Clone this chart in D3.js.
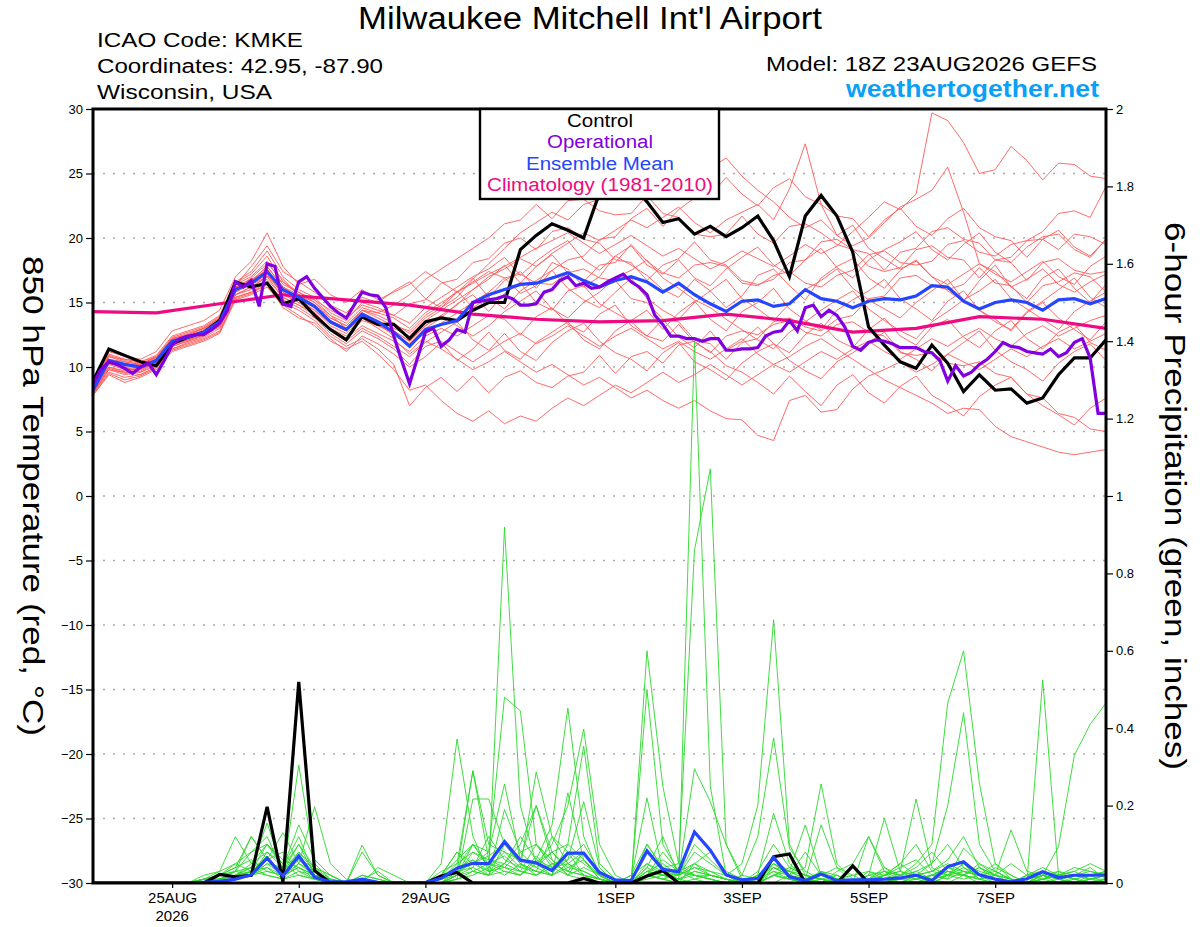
<!DOCTYPE html>
<html><head><meta charset="utf-8">
<script src="https://cdn.jsdelivr.net/npm/d3@7"></script>
<style>
body{margin:0;background:#fff}
svg{display:block}
text{font-family:"Liberation Sans",Arial,Helvetica,sans-serif}
</style>
</head><body>
<svg id="chart" width="1200" height="927"></svg>
<script>
// ---------------- DATA ----------------
const runStartUTC = [2026, 7, 23, 18];   // 18Z 23AUG2026
const runLengthHours = 384;
const tempTicks = [30,25,20,15,10,5,0,-5,-10,-15,-20,-25,-30];
const precipTicks = [0,0.2,0.4,0.6,0.8,1,1.2,1.4,1.6,1.8,2];
const precipTickLabels = ["0","0.2","0.4","0.6","0.8","1","1.2","1.4","1.6","1.8","2"];
const dateTicks = [[2026,7,25],[2026,7,27],[2026,7,29],[2026,8,1],[2026,8,3],[2026,8,5],[2026,8,7]];
const dateTickLabels = ["25AUG","27AUG","29AUG","1SEP","3SEP","5SEP","7SEP"];
const legendItems = ["Control","Operational","Ensemble Mean","Climatology (1981-2010)"];

// 850 hPa temperature, 6-hourly
const controlTemp = [8.9,11.4,10.9,10.4,10.1,11.8,12.3,12.7,13.6,16.6,16.2,16.5,14.9,
15.3,14.0,12.9,12.1,13.9,13.3,13.3,12.2,13.5,13.8,13.6,14.4,15.0,
15.0,19.1,20.2,21.1,20.6,20.0,23.5,24.8,24.2,22.8,21.2,21.5,20.3,
20.9,20.1,20.8,21.7,19.8,17.0,21.7,23.3,21.7,18.9,13.1,11.7,10.4,
9.9,11.7,10.3,8.1,9.4,8.2,8.3,7.2,7.6,9.4,10.7,10.7,12.1];
const meanTemp = [8.2,10.5,10.2,10.0,10.5,12.0,12.3,12.7,13.5,16.0,16.5,17.4,16.0,
15.4,14.7,13.5,12.9,14.1,13.5,12.7,11.6,12.9,13.3,13.6,15.0,15.6,
16.0,16.4,16.5,16.9,17.3,16.7,16.2,16.7,17.0,16.6,15.8,16.5,15.6,
14.9,14.3,15.1,15.2,14.7,14.9,16.0,15.3,15.1,14.6,15.1,15.3,15.2,
15.5,16.3,16.2,15.1,14.5,15.0,15.2,15.0,14.4,15.2,15.3,14.9,15.3];
// operational, 3-hourly
const operationalTemp = [8.7,9.8,10.4,10.2,9.9,9.5,10.0,10.3,9.4,10.5,
11.7,12.2,12.4,12.5,12.5,12.9,13.4,14.4,16.6,16.2,
16.7,14.7,18.0,17.8,14.9,14.7,16.6,17.0,16.1,15.4,
14.7,14.2,13.8,14.8,15.8,15.6,15.5,14.6,12.4,10.5,
8.7,10.7,12.7,13.0,11.6,12.1,12.9,12.7,15.0,15.1,
15.2,15.3,15.5,15.3,14.8,14.8,14.9,15.8,16.0,16.7,
17.0,16.3,16.5,16.1,16.2,16.6,16.9,17.2,16.6,16.2,
15.6,14.0,13.3,12.4,12.4,12.2,12.2,12.0,12.2,12.2,
11.3,11.3,11.4,11.4,11.5,12.4,12.7,12.8,13.6,12.8,
14.6,14.8,13.9,14.4,14.0,13.1,11.6,11.3,11.9,12.1,
12.0,11.8,11.5,11.5,11.5,11.2,11.1,10.5,8.9,10.1,
9.3,9.6,10.2,10.6,11.2,11.9,11.6,11.5,11.2,11.1,
11.0,11.4,10.8,11.1,11.9,12.2,10.7,6.4,6.4];
// climatology, daily
const climatologyTemp = [14.3,14.2,14.9,15.6,15.2,14.8,14.1,13.7,13.5,13.6,14.1,13.6,12.7,13.0,13.9,13.7,13.0];

// ensemble members, temperature, 6-hourly
const memberT01 = [8.5,10.8,10.4,10.2,10.8,12.2,12.6,13.0,13.8,16.4,17.0,18.2,16.4,
15.8,15.0,14.0,13.4,14.6,14.2,13.8,13.0,14.2,15.0,15.8,16.5,17.2,
17.8,18.5,19.2,19.8,20.4,19.6,18.8,19.5,20.2,19.4,18.6,19.2,18.4,
17.6,18.2,19.0,18.4,17.8,18.6,19.5,18.8,19.4,20.5,21.6,22.8,22.2,
23.4,29.7,29.1,27.4,25.0,25.3,27.1,26.0,24.5,25.8,25.7,24.8,24.6];
const memberT02 = [8.0,10.2,9.8,9.8,10.3,11.8,12.1,12.6,13.2,15.8,16.6,17.8,16.2,
15.6,14.8,13.8,13.2,14.4,14.0,13.4,12.6,13.8,14.6,15.4,16.8,18.0,
19.2,20.4,21.2,22.0,21.4,22.6,23.0,24.0,24.6,25.4,24.3,23.8,24.4,
25.4,26.2,24.8,23.7,22.8,21.6,20.8,21.4,20.2,19.4,20.0,21.2,22.4,
23.0,23.7,25.5,22.0,18.0,17.2,16.6,17.4,18.2,17.0,16.4,17.8,18.6];
const memberT03 = [8.4,10.6,10.0,9.6,10.1,11.6,12.0,12.4,13.4,16.2,16.8,17.4,15.6,
15.0,14.2,13.0,12.4,13.6,13.2,12.8,12.0,13.2,14.0,14.8,16.0,17.0,
17.6,18.4,17.8,18.8,19.6,20.4,19.8,20.6,21.4,20.8,21.6,22.4,21.2,
20.4,21.4,22.0,22.6,21.4,23.8,27.3,22.6,20.2,21.0,19.2,18.4,17.6,
18.2,17.0,16.4,17.2,18.0,17.4,16.2,16.8,17.6,16.4,15.8,16.6,17.2];
const memberT04 = [7.9,9.6,9.2,9.4,10.0,11.4,11.8,12.2,12.8,15.4,15.8,16.6,15.2,
14.6,13.8,12.6,11.8,12.8,12.2,11.4,10.2,11.6,12.0,11.2,10.4,11.2,
12.0,12.6,11.8,12.4,13.2,12.4,11.6,12.4,13.0,12.2,11.4,12.0,11.2,
10.6,11.4,12.2,11.0,10.2,10.8,11.6,12.2,11.4,10.6,9.8,9.0,8.4,
7.8,7.2,6.4,6.8,6.7,5.4,4.6,4.2,3.8,3.4,3.2,3.4,3.6];
const memberT05 = [8.1,10.0,9.6,9.8,10.4,11.9,12.2,12.6,13.3,15.6,16.2,17.0,15.8,
15.0,14.4,13.2,12.6,13.8,13.0,12.2,11.0,12.0,11.4,10.6,9.8,10.4,
11.2,10.4,9.6,10.2,9.4,8.6,9.2,8.4,7.6,8.2,7.4,6.8,7.4,
6.6,6.0,5.9,4.7,4.3,7.4,7.8,6.5,6.7,8.3,9.3,9.8,10.4,
9.6,10.2,11.0,10.4,9.8,10.6,11.4,10.8,11.6,12.2,11.4,12.0,12.6];
const memberT06 = [7.8,9.4,8.8,9.2,9.8,11.2,11.6,12.0,12.6,15.2,15.6,16.2,14.8,
14.0,13.2,12.0,11.4,12.0,11.0,9.8,8.2,8.6,7.4,6.4,5.8,6.6,
5.6,6.2,5.8,6.8,7.6,7.0,7.8,8.6,8.0,8.8,9.6,8.8,9.4,
10.2,9.4,8.6,9.4,10.2,9.6,10.4,11.2,10.6,11.4,12.0,11.2,10.6,
11.4,12.2,11.6,12.4,13.0,12.2,11.6,12.6,13.2,12.4,13.0,13.6,14.0];
const memberT07 = [8.6,11.0,10.6,10.4,10.9,12.4,12.8,13.2,14.0,16.6,17.4,19.0,17.0,
16.0,15.4,14.2,13.6,15.0,14.6,14.0,13.4,14.6,15.4,16.2,17.0,17.6,
18.5,17.1,18.2,19.1,19.8,18.3,17.5,18.6,19.4,17.9,17.2,18.3,16.9,
16.3,17.6,18.5,19.3,17.9,17.1,18.3,19.2,17.7,16.9,18.3,19.1,19.7,
20.5,19.1,18.3,19.5,20.4,18.9,18.1,19.3,20.1,20.3,19.1,18.5,19.9];
const memberT08 = [8.0,9.8,9.4,9.6,10.2,11.6,12.0,12.5,13.1,15.6,16.0,16.8,15.4,
14.8,14.2,13.0,12.2,13.2,12.6,12.0,11.2,12.4,13.0,12.4,13.2,14.0,
13.7,12.5,13.9,14.6,13.3,12.7,14.1,14.8,13.2,12.4,13.7,12.3,11.5,
12.8,11.3,12.0,13.1,11.8,11.1,12.5,13.4,12.1,11.5,12.9,13.8,12.4,
11.7,13.1,13.7,12.3,11.5,12.8,13.6,12.2,11.4,12.7,13.3,11.9,11.3];
const memberT09 = [8.3,10.4,10.0,10.0,10.6,12.0,12.4,12.8,13.6,16.0,16.6,17.6,16.0,
15.4,14.6,13.6,13.0,14.4,14.2,14.8,15.6,16.8,17.6,18.4,19.2,20.0,
21.1,21.4,22.6,21.5,22.9,23.0,22.1,21.8,21.9,23.3,21.9,21.6,20.3,
20.1,20.3,21.7,20.3,19.6,20.9,21.1,20.4,19.5,19.1,17.8,17.4,17.7,
19.1,19.4,18.5,18.3,16.9,18.3,18.5,19.8,19.9,19.1,20.3,20.1,19.5];
const memberT10 = [8.2,10.2,10.2,10.2,10.6,12.2,12.4,12.9,13.7,16.2,16.4,17.0,16.6,
15.6,15.2,14.0,13.0,14.2,13.4,12.4,11.8,12.6,13.4,14.2,15.0,15.8,
16.9,17.2,16.5,16.4,17.3,17.6,16.9,16.7,15.3,15.0,13.7,13.5,12.1,
11.8,10.6,11.9,12.2,13.5,13.8,13.1,12.8,13.7,14.0,15.3,15.5,16.9,
17.1,16.3,16.0,16.4,17.7,16.5,16.3,15.0,16.3,16.6,17.3,17.0,15.8];
const memberT11 = [8.8,11.2,10.8,10.6,11.2,12.8,13.2,13.6,14.4,17.0,18.2,20.4,17.8,
16.4,16.8,15.6,15.0,16.0,15.2,15.8,16.4,17.4,16.6,15.8,16.6,17.4,
16.9,15.7,16.3,18.1,17.6,16.2,17.0,18.6,17.9,17.1,16.0,15.4,16.8,
15.9,14.6,15.5,17.1,17.6,16.3,15.2,16.9,17.8,18.4,16.9,16.1,17.5,
18.3,17.0,15.9,15.1,16.7,17.9,16.2,15.3,16.9,17.6,16.1,15.0,16.4];
const memberT12 = [7.9,9.8,9.6,9.4,10.0,11.4,11.9,12.3,13.0,15.4,15.8,16.4,15.0,
14.4,13.6,12.4,11.6,12.2,11.4,10.2,7.0,8.4,9.2,8.1,9.3,8.0,
9.2,9.7,8.8,8.4,9.3,9.6,10.9,9.5,10.8,11.2,10.3,11.7,12.0,
11.1,12.4,12.8,12.5,13.3,13.6,12.7,12.4,13.3,13.5,12.7,12.4,11.1,
10.9,11.1,10.3,10.1,10.4,9.5,9.2,7.9,7.6,6.4,6.1,5.2,5.0];
const memberT13 = [8.4,10.6,10.4,10.2,10.7,12.1,12.5,13.0,13.6,16.1,16.9,18.0,16.8,
15.6,15.0,13.8,13.2,14.4,13.8,13.2,12.8,14.0,14.8,15.9,14.6,15.4,
16.7,17.4,16.1,17.5,18.3,18.6,19.9,20.1,21.5,22.3,20.9,22.2,23.1,
23.3,24.7,23.4,22.5,23.9,24.6,23.2,22.6,21.7,21.5,20.1,21.4,22.3,
20.9,20.2,21.5,22.3,20.8,20.1,19.8,18.5,19.9,20.6,19.3,18.6,19.9];
const memberT14 = [8.1,10.3,9.9,9.9,10.4,11.9,12.2,12.6,13.4,15.8,16.4,17.2,15.6,
15.2,14.4,13.4,12.8,13.8,13.2,12.6,11.8,13.0,13.8,14.9,15.6,14.3,
15.7,16.5,15.0,14.4,15.9,16.3,14.9,14.2,13.5,12.4,12.0,13.3,11.9,
11.2,10.1,9.6,8.8,7.9,9.3,8.1,7.0,8.6,9.4,8.0,7.2,8.5,
9.3,7.8,7.1,6.2,7.7,8.6,9.2,7.9,7.0,6.3,5.5,6.8,7.6];
const memberT15 = [8.5,10.8,10.6,10.4,10.8,12.3,12.7,13.1,13.9,16.5,17.2,18.6,16.6,
15.8,15.2,14.4,13.8,14.8,14.4,14.0,14.9,15.2,16.5,16.8,18.1,18.4,
19.6,20.0,19.1,20.5,20.8,19.9,19.6,18.3,18.1,16.7,17.9,18.4,19.7,
18.3,17.9,16.7,16.4,16.8,18.1,18.3,19.7,19.9,19.1,18.8,17.5,18.9,
19.2,20.5,20.8,19.9,19.6,18.3,18.1,16.7,18.1,18.4,17.5,17.2,17.4];
const memberT16 = [8.0,9.9,9.5,9.7,10.3,11.7,12.1,12.5,13.2,15.6,16.2,17.0,15.4,
14.8,14.0,12.8,12.0,13.0,12.4,11.6,10.8,11.9,12.7,13.5,12.1,11.3,
12.6,11.2,10.5,11.9,12.8,13.4,12.0,11.1,10.6,9.7,11.1,11.9,10.4,
9.8,9.0,10.3,11.2,11.8,10.5,9.7,9.1,10.4,11.1,11.9,12.7,11.2,
10.6,9.7,11.0,11.9,12.8,11.3,10.4,9.8,8.9,10.3,11.2,11.8,10.5];
const memberT17 = [8.3,10.5,10.1,10.1,10.5,12.0,12.3,12.8,13.5,16.0,16.7,17.8,16.2,
15.4,14.8,13.6,13.0,14.2,13.6,13.0,12.4,13.6,14.4,15.2,16.0,16.8,
17.9,16.5,17.8,18.7,17.3,16.6,17.9,18.1,19.5,18.2,17.3,16.9,17.9,
18.1,17.8,16.5,16.3,17.1,17.4,16.5,16.2,17.1,17.5,18.7,19.0,18.1,
17.9,18.2,19.5,19.8,18.9,18.6,19.5,19.8,20.5,21.9,22.1,21.6,24.0];
const memberT18 = [7.8,9.5,9.0,9.3,9.9,11.3,11.7,12.1,12.7,15.3,15.7,16.4,14.6,
13.8,13.4,12.2,11.2,12.4,11.8,11.0,10.0,10.8,11.9,10.5,11.4,12.7,
11.3,10.6,11.9,12.7,13.5,12.1,11.4,12.8,13.6,14.4,12.9,14.2,15.1,
13.7,12.8,14.3,15.0,16.1,14.5,13.6,12.9,14.4,15.2,15.9,16.8,15.3,
14.5,13.6,15.1,15.9,14.4,13.7,12.8,14.2,15.0,13.8,12.9,12.1,13.5];
const memberT19 = [8.6,10.9,10.5,10.3,10.7,12.2,12.5,13.0,13.8,16.3,17.8,19.4,17.4,
16.6,15.8,14.8,14.2,15.4,15.0,15.9,16.6,15.3,14.6,15.8,16.9,15.4,
14.5,15.9,16.7,17.5,16.1,15.2,14.6,15.8,16.9,15.3,14.4,13.7,15.0,
15.9,16.8,15.3,14.5,13.6,14.9,16.0,16.7,17.6,16.1,15.2,14.5,13.8,
15.0,15.9,16.8,15.2,14.4,13.5,12.9,14.3,15.1,16.0,16.9,15.4,14.6];
const memberT20 = [8.2,10.0,9.7,9.9,10.4,12.0,12.3,12.7,13.4,15.9,16.4,17.2,15.8,
15.2,14.6,13.4,12.8,14.0,13.4,12.8,12.0,13.2,14.0,13.2,12.4,13.2,
14.3,15.1,15.9,14.5,13.8,15.0,15.8,16.9,17.5,18.3,16.9,16.1,15.2,
14.6,13.7,12.9,12.1,11.4,12.7,13.5,14.4,15.2,15.9,14.5,13.6,12.8,
12.2,13.5,14.3,15.2,15.9,16.8,15.3,14.5,13.7,12.9,14.3,15.1,15.8];

// 6-hour precipitation (inches), 6-hourly
const controlPrecip = [0,0,0,0,0,0,0,0,0.022,0.016,0.02,0.197,0.003,
0.52,0.032,0,0,0,0,0,0,0,0.018,0.027,0,0,
0,0,0,0,0,0.012,0,0,0,0.018,0.032,0,0,
0,0,0,0,0.068,0.075,0,0,0,0.044,0,0,0,
0,0,0,0,0,0,0,0,0,0,0,0,0];
const meanPrecip = [0,0,0,0,0,0,0,0.002,0.004,0.01,0.021,0.064,0.018,
0.07,0.015,0.003,0.003,0.01,0.002,0.001,0.001,0.001,0.012,0.038,0.051,0.05,
0.107,0.059,0.052,0.032,0.077,0.077,0.027,0.008,0.006,0.083,0.035,0.029,0.132,
0.085,0.021,0.008,0.012,0.066,0.016,0.006,0.023,0.006,0.008,0.008,0.01,0.013,
0.02,0.006,0.042,0.055,0.021,0.01,0.003,0.011,0.029,0.014,0.02,0.02,0.021];
const memberP01 = [0,0,0,0,0,0,0,0.01,0.02,0.04,0.12,0.06,0.02,
0.305,0.05,0.01,0,0,0,0,0,0,0.02,0.08,0.05,0.03,
0.92,0.2,0.05,0.02,0.1,0.06,0.01,0,0,0.05,0.02,0.01,0.03,
0.02,0.01,0,0,0.05,0.02,0,0.03,0.01,0,0,0.02,0.01,
0,0,0.02,0.05,0.01,0,0,0,0,0,0.01,0.02,0];
const memberP02 = [0,0,0,0,0,0,0,0,0.01,0.02,0.04,0.155,0.03,
0.1,0.02,0,0,0,0,0,0,0,0,0.02,0.1,0.08,
0.48,0.445,0.1,0.04,0.02,0.08,0.02,0,0,0.02,0.06,0.03,0.01,
0,0,0,0.02,0.18,0.05,0.01,0.15,0.04,0,0,0,0.01,
0.03,0.01,0,0.02,0.04,0.01,0,0,0.02,0.01,0,0,0.01];
const memberP03 = [0,0,0,0,0,0,0,0.02,0.03,0.12,0.05,0.08,0.04,
0.12,0.02,0,0,0.02,0.01,0,0,0,0.05,0.372,0.12,0.03,
0.05,0.1,0.2,0.06,0.02,0.01,0,0,0,0.6,0.25,0.05,0.02,
0.01,0,0,0,0.02,0.01,0,0,0,0,0.02,0.167,0.03,
0.01,0,0.02,0.03,0.02,0.01,0,0.02,0.03,0.01,0,0,0];
const memberP04 = [0,0,0,0,0,0,0,0,0.01,0.02,0.03,0.1,0.05,
0.06,0.02,0.01,0,0,0,0,0,0,0,0.03,0.29,0.1,
0.08,0.04,0.287,0.12,0.05,0.02,0.01,0,0.02,0.05,0.03,0,1.40,
0.25,0.02,0,0,0.04,0.02,0,0,0.01,0,0,0,0,
0.02,0.05,0.1,0.04,0.01,0,0,0.01,0.02,0,0,0.01,0.02];
const memberP05 = [0,0,0,0,0,0,0,0.01,0.01,0.03,0.12,0.06,0.13,
0.05,0.197,0.05,0.01,0,0,0,0,0,0,0.01,0.217,0.217,
0.1,0.05,0.02,0.04,0.08,0.02,0,0,0,0.1,0.04,0.05,0.86,
1.07,0.1,0.01,0,0,0.02,0,0.02,0.01,0,0,0.01,0,
0,0.01,0.03,0.02,0,0,0,0,0.01,0.02,0.01,0,0];
const memberP06 = [0,0,0,0,0,0,0,0,0.02,0.05,0.03,0.07,0.02,
0.08,0.03,0,0,0,0.04,0.02,0,0,0,0.04,0.06,0.02,
0.19,0.08,0.04,0.02,0.233,0.06,0.01,0,0,0.03,0.02,0.02,0.05,
0.03,0.02,0.05,0.2,0.68,0.1,0.02,0.01,0,0,0.02,0.01,0,
0,0.02,0.04,0.03,0.02,0,0,0.02,0.01,0,0,0,0.01];
const memberP07 = [0,0,0,0,0,0,0,0,0.01,0.02,0.05,0.1,0.06,
0.04,0.02,0.01,0,0.098,0.02,0,0,0,0.01,0.05,0.08,0.05,
0.04,0.02,0.06,0.15,0.452,0.12,0.02,0,0,0.02,0.01,0.03,0.02,
0.01,0,0,0,0.02,0.01,0,0.01,0.02,0,0.12,0.03,0.02,
0.05,0.1,0.465,0.6,0.258,0.05,0.01,0,0.02,0.01,0,0.02,0.03];
const memberP08 = [0,0,0,0,0,0,0,0.01,0.02,0.04,0.06,0.03,0.02,
0.06,0.04,0.02,0,0.01,0.03,0,0,0,0.02,0.06,0.1,0.04,
0.08,0.06,0.05,0.1,0.2,0.398,0.1,0.02,0,0.02,0.03,0.01,0,
0,0,0,0.02,0.05,0.03,0.01,0,0.02,0,0,0.02,0.05,
0.02,0.01,0.03,0.02,0.01,0.04,0.02,0,0.525,0.02,0,0.01,0.02];
const memberP09 = [0,0,0,0,0,0,0,0,0.01,0.03,0.08,0.12,0.03,
0.07,0.02,0,0,0,0,0,0,0,0.02,0.04,0.05,0.08,
0.256,0.06,0.04,0.08,0.1,0.354,0.05,0.01,0,0.02,0.08,0.03,0.05,
0.02,0.01,0,0,0.04,0.03,0.02,0.01,0,0,0.01,0.03,0.02,
0.03,0.05,0.2,0.44,0.1,0.03,0.01,0,0.02,0.03,0.01,0,0];
const memberP10 = [0,0,0,0,0,0,0,0,0,0.01,0.02,0.05,0.02,
0.04,0.01,0,0,0,0,0,0,0,0.01,0.03,0.04,0.02,
0.05,0.03,0.02,0.05,0.06,0.21,0.04,0,0,0.5,0.1,0.03,0.02,
0.01,0,0.02,0.12,0.375,0.09,0.03,0.01,0,0,0,0,0.01,
0.02,0.01,0.02,0.04,0.02,0.01,0,0,0.02,0.094,0.33,0.41,0.465];
const memberP11 = [0,0,0,0,0,0,0,0.01,0.02,0.03,0.04,0.06,0.08,
0.03,0.02,0.01,0,0,0,0,0,0,0,0.02,0.08,0.06,
0.04,0.08,0.1,0.05,0.03,0.08,0.02,0,0.01,0.22,0.03,0.02,0.295,
0.21,0.1,0.02,0.01,0.05,0.02,0.04,0.256,0.05,0.01,0,0.02,0.03,
0.217,0.04,0.02,0.01,0.02,0.03,0.01,0,0.03,0.02,0.01,0,0.01];
const memberP12 = [0,0,0,0,0,0,0,0,0.01,0.02,0.03,0.04,0.02,
0.05,0.03,0.01,0,0.08,0.02,0,0,0,0.01,0.03,0.05,0.07,
0.1,0.06,0.2,0.08,0.03,0.02,0.01,0,0,0.03,0.02,0.01,0.02,
0.02,0.01,0,0,0.02,0.03,0.15,0.02,0.01,0,0,0.01,0.02,
0.01,0.02,0.04,0.02,0.01,0.02,0.137,0.03,0.02,0.01,0.02,0.03,0.02];
const memberP13 = [0,0,0,0,0,0,0,0.01,0.01,0.02,0.02,0.05,0.04,
0.1,0.04,0.02,0,0,0,0,0,0,0.03,0.05,0.29,0.06,
0.05,0.12,0.06,0.04,0.05,0.03,0.01,0,0,0.04,0.12,0.02,0.08,
0.05,0.02,0,0.02,0.04,0.02,0.01,0,0.03,0.05,0.12,0.04,0.01,
0.02,0.03,0.05,0.03,0.02,0.05,0.02,0,0.01,0.02,0.04,0.03,0.02];
const memberP14 = [0,0,0,0,0,0,0,0,0.02,0.03,0.02,0.08,0.05,
0.02,0.01,0,0,0,0,0,0,0,0,0.02,0.03,0.05,
0.07,0.03,0.1,0.06,0.02,0.04,0.02,0,0,0.03,0.05,0.02,0.1,
0.06,0.02,0,0.03,0.1,0.04,0.02,0.01,0,0,0.03,0.02,0.04,
0.06,0.02,0.01,0.09,0.05,0.02,0.01,0,0.01,0.02,0.03,0.05,0.03];
const memberP15 = [0,0,0,0,0,0,0,0.01,0.03,0.05,0.08,0.1,0.04,
0.15,0.06,0.02,0,0.02,0.01,0,0,0,0.01,0.02,0.04,0.12,
0.06,0.04,0.03,0.12,0.08,0.05,0.02,0,0.02,0.1,0.04,0.02,0.04,
0.03,0.01,0,0.02,0.06,0.02,0.08,0.02,0.01,0,0.01,0.04,0.02,
0.04,0.08,0.03,0.02,0.04,0.02,0,0.02,0.03,0.01,0.02,0.04,0.01];
const memberP16 = [0,0,0,0,0,0,0,0,0.01,0.02,0.04,0.02,0.01,
0.03,0.01,0,0,0,0,0,0,0,0.02,0.08,0.03,0.02,
0.03,0.02,0.07,0.03,0.06,0.1,0.03,0.01,0,0.02,0.01,0,0.05,
0.08,0.03,0.01,0,0.03,0.01,0,0.02,0.04,0.02,0,0.02,0.05,
0.1,0.03,0.02,0.05,0.03,0.02,0.05,0.02,0.04,0.02,0.01,0.02,0.03];
const memberP17 = [0,0,0,0,0,0,0,0,0.01,0.01,0.02,0.03,0.02,
0.04,0.02,0,0,0,0,0,0,0,0,0.01,0.02,0.04,
0.02,0.05,0.03,0.02,0.04,0.06,0.02,0,0,0.01,0.02,0.04,0.02,
0.01,0,0,0.01,0.03,0.02,0.01,0,0.01,0.02,0.03,0.01,0,
0.01,0.02,0.01,0.03,0.02,0.01,0,0.01,0.02,0.01,0,0.01,0.02];
const memberP18 = [0,0,0,0,0,0,0,0,0,0.01,0.03,0.06,0.03,
0.08,0.04,0.01,0,0,0,0,0,0,0,0.02,0.06,0.03,
0.04,0.03,0.02,0.05,0.03,0.02,0.01,0,0,0.04,0.02,0.01,0.03,
0.02,0.01,0,0,0.06,0.03,0.01,0.03,0.02,0,0,0.01,0.01,
0.02,0.03,0.06,0.12,0.04,0.02,0.01,0,0.01,0.02,0.03,0.01,0];
const memberP19 = [0,0,0,0,0,0,0,0,0.01,0.02,0.02,0.04,0.01,
0.02,0.01,0,0,0,0,0,0,0,0.01,0.04,0.1,0.05,
0.03,0.02,0.05,0.08,0.04,0.03,0.01,0,0,0.02,0.01,0,0.01,
0.02,0.01,0,0,0.02,0.01,0,0.01,0,0,0.01,0.02,0.03,
0.02,0.01,0.02,0.02,0.05,0.03,0.01,0,0.01,0.03,0.02,0.01,0.01];
const memberP20 = [0,0,0,0,0,0,0,0,0.01,0.01,0.03,0.02,0.01,
0.05,0.02,0,0,0,0,0,0,0,0,0.01,0.03,0.02,
0.1,0.05,0.03,0.02,0.05,0.08,0.02,0,0,0.02,0.01,0.02,0.04,
0.02,0.01,0,0,0.02,0.04,0.02,0.01,0,0,0.02,0.03,0.01,
0.01,0.02,0.03,0.02,0.01,0.02,0.01,0,0,0.01,0.02,0.01,0.02];

const memberTemps = [memberT01,memberT02,memberT03,memberT04,memberT05,memberT06,memberT07,memberT08,memberT09,memberT10,
  memberT11,memberT12,memberT13,memberT14,memberT15,memberT16,memberT17,memberT18,memberT19,memberT20];
const memberPrecips = [memberP01,memberP02,memberP03,memberP04,memberP05,memberP06,memberP07,memberP08,memberP09,memberP10,
  memberP11,memberP12,memberP13,memberP14,memberP15,memberP16,memberP17,memberP18,memberP19,memberP20];

// ---------------- CHART ----------------
const M = {left: 93, right: 1106, top: 109, bottom: 883};
const svg = d3.select("#chart");

const t0 = new Date(Date.UTC(...runStartUTC));
const t1 = d3.utcHour.offset(t0, runLengthHours);
const x = d3.scaleUtc().domain([t0, t1]).range([M.left, M.right]);
const yT = d3.scaleLinear().domain([-30, 30]).range([M.bottom, M.top]);
const yP = d3.scaleLinear().domain([0, 2]).range([M.bottom, M.top]);

const timeAt = step => (d, i) => x(d3.utcHour.offset(t0, i * step));

svg.append("defs").append("clipPath").attr("id","plotclip")
  .append("rect").attr("x", M.left).attr("y", M.top)
  .attr("width", M.right - M.left).attr("height", M.bottom - M.top);

// gridlines
svg.append("g").selectAll("line").data(tempTicks.filter(d => d !== 30 && d !== -30)).join("line")
  .attr("x1", M.left).attr("x2", M.right)
  .attr("y1", d => yT(d)).attr("y2", d => yT(d))
  .attr("stroke", "#aaaaaa").attr("stroke-width", 1.6)
  .attr("stroke-dasharray", "2,8");

const plot = svg.append("g").attr("clip-path", "url(#plotclip)");
const lineT = step => d3.line().x(timeAt(step)).y(d => yT(d));
const lineP = step => d3.line().x(timeAt(step)).y(d => yP(d));

// members
plot.append("g").selectAll("path").data(memberTemps).join("path")
  .attr("d", lineT(6)).attr("fill", "none")
  .attr("stroke", "#ff5a5a").attr("stroke-width", 0.9);
plot.append("g").selectAll("path").data(memberPrecips).join("path")
  .attr("d", lineP(6)).attr("fill", "none")
  .attr("stroke", "#2ad82a").attr("stroke-width", 0.9);

// climatology
plot.append("path").datum(climatologyTemp).attr("d", lineT(24))
  .attr("fill","none").attr("stroke","#ee0a80").attr("stroke-width",3.2);
// control
plot.append("path").datum(controlTemp).attr("d", lineT(6))
  .attr("fill","none").attr("stroke","#000").attr("stroke-width",3.2);
plot.append("path").datum(controlPrecip).attr("d", lineP(6))
  .attr("fill","none").attr("stroke","#000").attr("stroke-width",3.2);
// ensemble mean
plot.append("path").datum(meanTemp).attr("d", lineT(6))
  .attr("fill","none").attr("stroke","#2545ff").attr("stroke-width",3.2);
plot.append("path").datum(meanPrecip).attr("d", lineP(6))
  .attr("fill","none").attr("stroke","#2545ff").attr("stroke-width",3.2);
// operational
plot.append("path").datum(operationalTemp).attr("d", lineT(3))
  .attr("fill","none").attr("stroke","#8000e0").attr("stroke-width",3.2);

// frame
svg.append("rect").attr("x", M.left).attr("y", M.top)
  .attr("width", M.right - M.left).attr("height", M.bottom - M.top)
  .attr("fill","none").attr("stroke","#000").attr("stroke-width",3);

// axes
const axL = svg.append("g").attr("transform", `translate(${M.left},0)`)
  .call(d3.axisLeft(yT).tickValues(tempTicks).tickSize(7).tickPadding(3));
const axR = svg.append("g").attr("transform", `translate(${M.right},0)`)
  .call(d3.axisRight(yP).tickValues(precipTicks).tickFormat((d,i) => precipTickLabels[i]).tickSize(7).tickPadding(3));
const tickDates = dateTicks.map(d => new Date(Date.UTC(d[0], d[1], d[2])));
const axB = svg.append("g").attr("transform", `translate(0,${M.bottom})`)
  .call(d3.axisBottom(x).tickValues(tickDates).tickFormat((d,i) => dateTickLabels[i]).tickSize(5).tickPadding(4));
[axL, axR, axB].forEach(a => {
  a.select(".domain").remove();
  a.selectAll(".tick line").attr("stroke","#000").attr("stroke-width",1.2);
  a.selectAll(".tick text").attr("fill","#000").style("font-family",'"Liberation Sans",Arial,sans-serif');
});
axL.selectAll(".tick text").style("font-size","13px");
axR.selectAll(".tick text").style("font-size","13px");
axB.selectAll(".tick text").style("font-size","15px");
svg.append("text").attr("x", x(tickDates[0])).attr("y", 921)
  .attr("text-anchor","middle").style("font-size","15px").text("2026");

// legend
const lg = svg.append("g");
lg.append("rect").attr("x", 480).attr("y", M.top).attr("width", 239).attr("height", 90)
  .attr("fill","#fff").attr("stroke","#000").attr("stroke-width",2.4);
const legendColors = ["#000000","#8000e0","#2545ff","#ee0a80"];
const legendWidths = [66, 106, 148, 226];
lg.selectAll("text.li").data(legendItems).join("text").attr("class","li")
  .attr("x", 600).attr("y", (d,i) => 127 + i * 21.3)
  .attr("text-anchor","middle").style("font-size","18px")
  .attr("textLength", (d,i) => legendWidths[i]).attr("lengthAdjust","spacingAndGlyphs")
  .attr("fill", (d,i) => legendColors[i]).text(d => d);

// titles
svg.append("text").attr("x", 590).attr("y", 29).attr("text-anchor","middle")
  .style("font-size","31px").attr("textLength", 464).attr("lengthAdjust","spacingAndGlyphs")
  .text("Milwaukee Mitchell Int'l Airport");
const hdr = ["ICAO Code: KMKE","Coordinates: 42.95, -87.90","Wisconsin, USA"];
const hdrWidths = [206, 286, 175];
svg.append("g").selectAll("text").data(hdr).join("text")
  .attr("x", 97).attr("y", (d,i) => 47 + i * 26).style("font-size","20px")
  .attr("textLength", (d,i) => hdrWidths[i]).attr("lengthAdjust","spacingAndGlyphs").text(d => d);
svg.append("text").attr("x", 1097).attr("y", 71).attr("text-anchor","end")
  .style("font-size","20px").attr("textLength", 331).attr("lengthAdjust","spacingAndGlyphs")
  .text("Model: 18Z 23AUG2026 GEFS");
svg.append("text").attr("x", 1099).attr("y", 97).attr("text-anchor","end")
  .style("font-size","23px").style("font-weight","bold").attr("fill","#0aa0f5")
  .attr("textLength", 253).attr("lengthAdjust","spacingAndGlyphs").text("weathertogether.net");

// axis titles
svg.append("text").attr("transform", `translate(23,${(M.top+M.bottom)/2}) rotate(90)`)
  .attr("text-anchor","middle").style("font-size","30px")
  .attr("textLength", 480).attr("lengthAdjust","spacingAndGlyphs")
  .text("850 hPa Temperature (red, \u00B0C)");
svg.append("text").attr("transform", `translate(1165,${(M.top+M.bottom)/2}) rotate(90)`)
  .attr("text-anchor","middle").style("font-size","30px")
  .attr("textLength", 548).attr("lengthAdjust","spacingAndGlyphs")
  .text("6-hour Precipitation (green, inches)");
</script>
</body></html>
